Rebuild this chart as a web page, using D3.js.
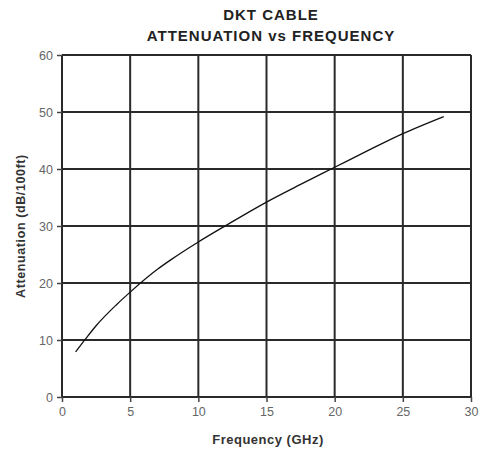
<!DOCTYPE html>
<html>
<head>
<meta charset="utf-8">
<script src="https://cdn.jsdelivr.net/npm/d3@7"></script>
<style>
  body { margin: 0; background: #fff; }
  text { font-family: "Liberation Sans", Arial, sans-serif; }
</style>
</head>
<body>
<div id="wrapper"></div>
<script>
// data
const freq = [1, 1.7, 2.5, 4, 5, 7, 8, 10, 12.1, 15, 17.5, 20, 22.5, 25, 28]
const atten = [7.9, 10.1, 12.5, 16.2, 18.4, 22.4, 24.1, 27.2, 30.2, 34.2, 37.3, 40.3, 43.3, 46.2, 49.2]
const xTicks = [0, 5, 10, 15, 20, 25, 30]
const yTicks = [0, 10, 20, 30, 40, 50, 60]
const titleLines = ["DKT CABLE", "ATTENUATION vs FREQUENCY"]

const data = freq.map((f, i) => ({f: f, a: atten[i]}))

var dimension = {
    width: 489,
    height: 452,
    margin: { top: 55, left: 62, right: 18, bottom: 55 }
}
dimension.boundedWidth = dimension.width - dimension.margin.left - dimension.margin.right
dimension.boundedHeight = dimension.height - dimension.margin.top - dimension.margin.bottom

const svg = d3.select("#wrapper")
    .append("svg")
    .attr("width", dimension.width)
    .attr("height", dimension.height)

const bounds = svg.append("g")
    .attr("transform", `translate(${dimension.margin.left},${dimension.margin.top})`)

const x = d3.scaleLinear().domain([0, 30]).range([0, dimension.boundedWidth])
const y = d3.scaleLinear().domain([0, 60]).range([dimension.boundedHeight, 0])

// grid
bounds.append("g")
    .selectAll("line")
    .data(xTicks)
    .enter()
    .append("line")
    .attr("x1", d => x(d)).attr("x2", d => x(d))
    .attr("y1", 0).attr("y2", dimension.boundedHeight)
    .attr("stroke", "#2a2a2a")
    .attr("stroke-width", 2)

bounds.append("g")
    .selectAll("line")
    .data(yTicks)
    .enter()
    .append("line")
    .attr("y1", d => y(d)).attr("y2", d => y(d))
    .attr("x1", 0).attr("x2", dimension.boundedWidth)
    .attr("stroke", "#2a2a2a")
    .attr("stroke-width", 2)

// axes
const xAxis = bounds.append("g")
    .attr("transform", `translate(0,${dimension.boundedHeight})`)
    .call(d3.axisBottom(x).tickValues(xTicks).tickSize(5).tickPadding(5))
const yAxis = bounds.append("g")
    .call(d3.axisLeft(y).tickValues(yTicks).tickSize(5).tickPadding(4))

;[xAxis, yAxis].forEach(a => {
    a.select(".domain").remove()
    a.selectAll("line").attr("stroke", "#444").attr("stroke-width", 1.5)
    a.selectAll("text")
        .attr("fill", "#666")
        .style("font-size", "12.5px")
        .style("font-family", "'Liberation Sans', Arial, sans-serif")
})

// curve
const line = d3.line()
    .x(d => x(d.f))
    .y(d => y(d.a))
    .curve(d3.curveMonotoneX)

bounds.append("path")
    .datum(data)
    .attr("d", line)
    .attr("fill", "none")
    .attr("stroke", "#111")
    .attr("stroke-width", 1.3)

// titles
svg.append("g")
    .selectAll("text")
    .data(titleLines)
    .enter()
    .append("text")
    .attr("x", 271)
    .attr("y", (d, i) => 20 + i * 21)
    .attr("text-anchor", "middle")
    .style("font-size", "15px")
    .style("letter-spacing", "1px")
    .style("font-weight", "bold")
    .attr("fill", "#222")
    .text(d => d)

svg.append("text")
    .attr("x", 268)
    .attr("y", 444)
    .attr("text-anchor", "middle")
    .style("font-size", "13px")
    .style("letter-spacing", "0.5px")
    .style("font-weight", "bold")
    .attr("fill", "#333")
    .text("Frequency (GHz)")

svg.append("text")
    .attr("transform", `translate(25,${dimension.margin.top + dimension.boundedHeight / 2}) rotate(-90)`)
    .attr("text-anchor", "middle")
    .style("font-size", "12.5px")
    .style("letter-spacing", "0.6px")
    .style("font-weight", "bold")
    .attr("fill", "#333")
    .text("Attenuation (dB/100ft)")
</script>
</body>
</html>
